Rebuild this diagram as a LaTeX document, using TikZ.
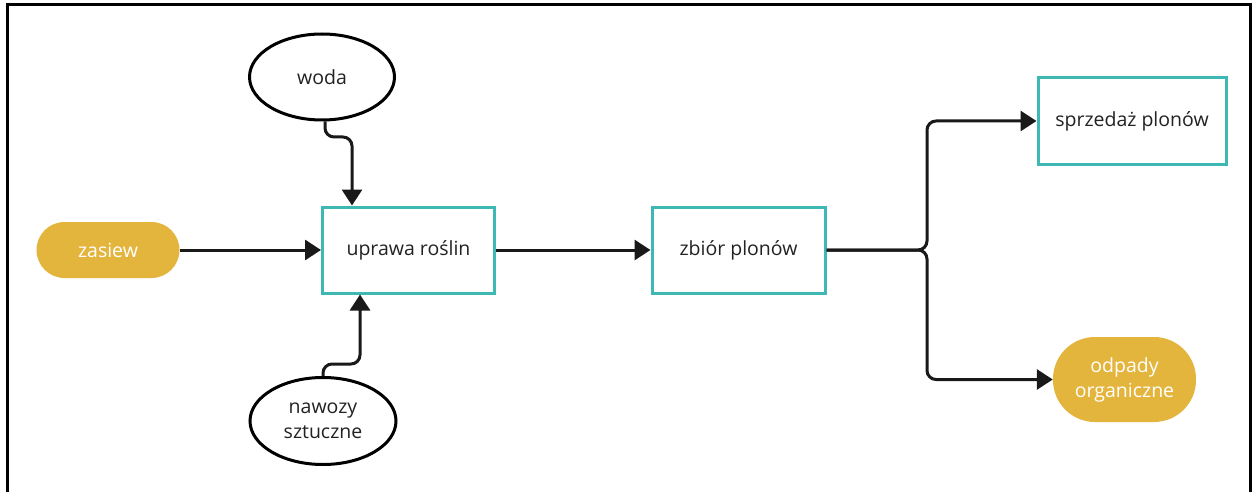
\documentclass[tikz,border=0pt]{standalone}
\usepackage{fontspec}
\setmainfont{Open Sans}
\usetikzlibrary{arrows.meta,shapes.geometric}
\definecolor{teal1}{HTML}{3DB8B4}
\definecolor{gold1}{HTML}{E3B53C}
\definecolor{txt}{HTML}{222222}
\begin{document}
\begin{tikzpicture}[x=1pt,y=-1pt,
  every node/.style={font=\fontsize{19.5}{25}\selectfont, text=txt, align=center, inner sep=0pt},
  procbox/.style={draw=teal1, line width=3pt, fill=white},
  pill/.style={fill=gold1, text=white},
  oval/.style={ellipse, draw=black, line width=3pt, fill=white},
  conn/.style={line width=3pt, draw=black!90, -{Triangle[width=20pt,length=16pt]}, rounded corners=9pt}
]
\useasboundingbox (0,0) rectangle (1255,492);
\fill[white] (0,0) rectangle (1255,492);
\draw[line width=3pt] (7,492) -- (7,5) -- (1250,5) -- (1250,492);

\node[oval, minimum width=145pt, minimum height=86pt] (woda) at (322,77) {woda};
\node[oval, minimum width=146pt, minimum height=87pt] (nawozy) at (323,421) {nawozy\\sztuczne};
\node[pill, minimum width=143pt, minimum height=56pt, rounded corners=28pt] (zasiew) at (108,250) {zasiew};
\node[procbox, minimum width=172pt, minimum height=86pt] (uprawa) at (408.5,250) {uprawa roślin};
\node[procbox, minimum width=173pt, minimum height=86pt] (zbior) at (738.5,250) {zbiór plonów};
\node[procbox, minimum width=188pt, minimum height=86pt] (sprzedaz) at (1132,121) {sprzedaż plonów};
\node[pill, minimum width=143pt, minimum height=85pt, rounded corners=42pt] (odpady) at (1124.5,379.5) {odpady\\organiczne};

\coordinate (w1) at (325,137);
\coordinate (n1) at (323,364);

\draw[conn] (woda.south -| w1) |- (352,137) -- (uprawa.north -| 352,0);
\draw[conn] (nawozy.north) |- (360,364) -- (uprawa.south -| 360,0);
\draw[conn] (zasiew.east) -- (uprawa.west);
\draw[conn] (uprawa.east) -- (zbior.west);
\draw[conn] (zbior.east) -- (927,250) |- (sprzedaz.west);
\draw[conn] (zbior.east) -- (927,250) |- (odpady.west);
\end{tikzpicture}
\end{document}
